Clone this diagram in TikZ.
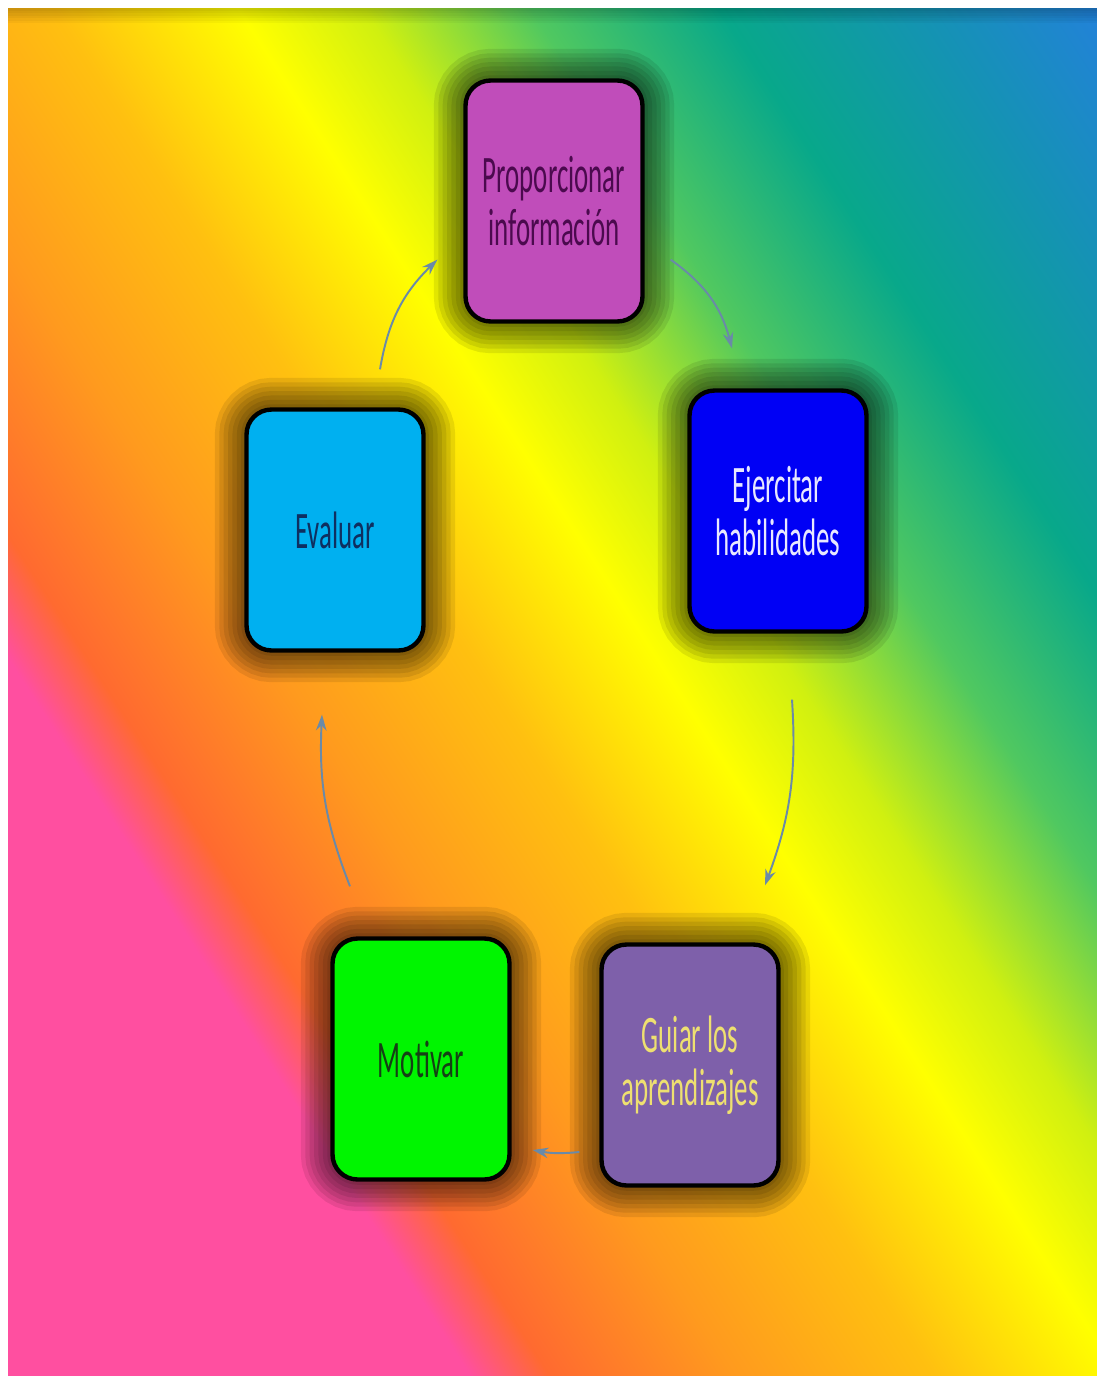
\documentclass[tikz,border=0pt]{standalone}
\usepackage{fontspec}
\newfontfamily\boxfont{Carlito}[FakeStretch=0.51]
\usetikzlibrary{arrows.meta}

% background colours
\definecolor{bgpink}{HTML}{FF4FA0}
\definecolor{bgred}{HTML}{FF6A30}
\definecolor{bgorange}{HTML}{FF9A1E}
\definecolor{bgamber}{HTML}{FFC010}
\definecolor{bgyellow}{HTML}{FFFF00}
\definecolor{bglime}{HTML}{D0F010}
\definecolor{bggreen}{HTML}{50C860}
\definecolor{bgteal}{HTML}{08A88A}
\definecolor{bgsea}{HTML}{1592B5}
\definecolor{bgblue}{HTML}{2282D8}
% box colours
\definecolor{propfill}{HTML}{C04DBA}
\definecolor{proptext}{HTML}{4B0A4E}
\definecolor{ejerfill}{HTML}{0000F5}
\definecolor{ejertext}{HTML}{E8E8FF}
\definecolor{guiarfill}{HTML}{7E60AA}
\definecolor{guiartext}{HTML}{EEE070}
\definecolor{motifill}{HTML}{00F500}
\definecolor{motitext}{HTML}{154015}
\definecolor{evalfill}{HTML}{00B0F0}
\definecolor{evaltext}{HTML}{0F2F60}
\definecolor{arrowgray}{HTML}{6A8AA8}

\pgfdeclarehorizontalshading{rainbowbg}{100bp}{color(0bp)=(bgpink); color(37.5bp)=(bgpink);
  color(39.4bp)=(bgred); color(43.8bp)=(bgorange); color(48.6bp)=(bgamber);
  color(53bp)=(bgyellow); color(56bp)=(bglime); color(60bp)=(bggreen);
  color(64.5bp)=(bgteal); color(69.5bp)=(bgsea); color(73.5bp)=(bgblue); color(100bp)=(bgblue)}

\begin{document}
\begin{tikzpicture}[x=0.02cm, y=-0.02cm,
  halo/.style={preaction={draw=black, draw opacity=0.09, line width=#1}},
  cyclebox/.style={draw=black, line width=2.5pt, rounded corners=0.5cm,
    minimum width=3.54cm, minimum height=4.82cm, align=center,
    font=\boxfont\fontsize{30}{30.5}\selectfont,
    halo=36pt, halo=31pt, halo=26pt, halo=21pt, halo=16pt, halo=11pt, halo=6pt},
  cyc/.style={-{Stealth[length=9pt, width=6pt]}, draw=arrowgray, line width=1.1pt}]

% background
\fill[white] (0,0) rectangle (1097,1376);
\begin{scope}
  \clip (8,8) rectangle (1097,1376);
  \shade[shading=rainbowbg, shading angle=32.8] (-327.5,-188) rectangle (1432.5,1572);
  \foreach \i in {1,...,6}
    \fill[black, opacity=0.035] (8,8) rectangle (1097,8+2.5*\i);
\end{scope}

% boxes
\node[cyclebox, fill=propfill, text=proptext] (prop) at (554,201) {Proporcionar\\información};
\node[cyclebox, fill=ejerfill, text=ejertext] (ejer) at (778,511) {Ejercitar\\habilidades};
\node[cyclebox, fill=guiarfill, text=guiartext] (guiar) at (690,1065) {Guiar los\\aprendizajes};
\node[cyclebox, fill=motifill, text=motitext] (moti) at (421,1059) {Motivar};
\node[cyclebox, fill=evalfill, text=evaltext] (eval) at (335,530) {Evaluar};

% cycle arrows
\draw[cyc] ([shift={(26,-64)}]prop.south east) to[bend left=20] ([shift={(-46,-40)}]ejer.north);
\draw[cyc] ([shift={(14,66)}]ejer.south) to[bend left=12] ([shift={(75,-57)}]guiar.north);
\draw[cyc] ([shift={(-20,87)}]guiar.west) to[bend left=8] ([shift={(21,91)}]moti.east);
\draw[cyc] ([shift={(-71,-50)}]moti.north) to[bend left=12] ([shift={(-13,62)}]eval.south);
\draw[cyc] ([shift={(45,-38)}]eval.north) to[bend left=18] ([shift={(-26,-64)}]prop.south west);

\end{tikzpicture}
\end{document}
